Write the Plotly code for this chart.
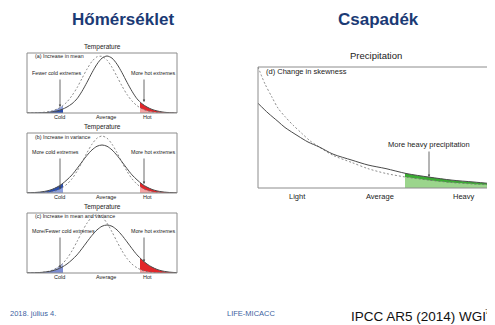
import plotly.graph_objects as go

# page is offset by the browser's 8px body margin; the figure fills the rest of the 495x325 window
OX, OY = 8, 8
W, H = 495 - OX, 325 - OY

# ---------------- data ----------------
temp_x = list(range(0, 151, 5))  # temperature axis, arbitrary units
# (a) increase in mean
a_new = [0, 0.001, 0.001, 0.003, 0.008, 0.018, 0.035, 0.06, 0.1, 0.155, 0.237, 0.362, 0.512, 0.672, 0.814, 0.914,
         0.95, 0.914, 0.814, 0.672, 0.512, 0.362, 0.237, 0.155, 0.1, 0.06, 0.035, 0.018, 0.008, 0.003, 0.001]
a_old = [0.001, 0.002, 0.004, 0.009, 0.018, 0.035, 0.065, 0.112, 0.185, 0.29, 0.42, 0.577, 0.732, 0.861, 0.937, 0.944,
         0.881, 0.761, 0.608, 0.45, 0.309, 0.2, 0.122, 0.07, 0.038, 0.02, 0.01, 0.005, 0.002, 0.001, 0]
# (b) increase in variance
b_new = [0.003, 0.006, 0.011, 0.02, 0.035, 0.06, 0.098, 0.15, 0.22, 0.302, 0.407, 0.519, 0.627, 0.718, 0.779, 0.8,
         0.779, 0.718, 0.627, 0.519, 0.407, 0.302, 0.22, 0.15, 0.098, 0.06, 0.035, 0.02, 0.011, 0.006, 0.003]
b_old = [0.001, 0.001, 0.002, 0.005, 0.011, 0.022, 0.045, 0.085, 0.148, 0.237, 0.362, 0.512, 0.672, 0.814, 0.914, 0.95,
         0.914, 0.814, 0.672, 0.512, 0.362, 0.237, 0.148, 0.085, 0.045, 0.022, 0.011, 0.005, 0.002, 0.001, 0.001]
# (c) increase in mean and variance
c_new = [0.002, 0.003, 0.006, 0.011, 0.02, 0.035, 0.06, 0.098, 0.15, 0.22, 0.302, 0.407, 0.519, 0.627, 0.718, 0.779,
         0.8, 0.779, 0.718, 0.627, 0.519, 0.407, 0.302, 0.22, 0.15, 0.098, 0.06, 0.035, 0.02, 0.011, 0.006]
c_old = [0.001, 0.002, 0.005, 0.011, 0.023, 0.046, 0.087, 0.148, 0.242, 0.37, 0.523, 0.686, 0.831, 0.933, 0.97, 0.933,
         0.831, 0.686, 0.523, 0.37, 0.242, 0.148, 0.087, 0.046, 0.023, 0.011, 0.005, 0.002, 0.001, 0.001, 0]
temp_thresholds = [36, 113]          # cold, hot
temp_labels = ["Cold", "Average", "Hot"]
temp_label_x = [32, 79, 120]

# (d) change in skewness (precipitation)
d_new_x = [0, 10, 20, 27, 40, 50, 61, 75, 94, 110, 128, 148, 171, 194, 215, 235]
d_new = [0.70, 0.62, 0.55, 0.50, 0.43, 0.38, 0.34, 0.28, 0.23, 0.19, 0.16, 0.12, 0.09, 0.065, 0.05, 0.035]
d_old_x = [0, 7, 14, 20, 27, 35, 44, 52, 61, 75, 94, 110, 128, 148, 171, 194, 215, 235]
d_old = [1.0, 0.86, 0.75, 0.66, 0.59, 0.52, 0.45, 0.39, 0.34, 0.27, 0.21, 0.16, 0.12, 0.09, 0.065, 0.045, 0.033, 0.025]
heavy_threshold = 147
precip_labels = ["Light", "Average", "Heavy"]
precip_label_x = [39, 122, 206]

# ---------------- helpers (page pixel -> paper) ----------------
def px(x):
    return (x - OX) / W

def py(y):
    return 1 - (y - OY) / H

FONT = "Liberation Sans, Arial, sans-serif"
SOLID = dict(color="#4a4a4a", width=1)
DASH = dict(color="#707070", width=0.8, dash="2px,2px")

fig = go.Figure()
layout_axes = {}

def xaxis(name, x0, x1, rng, anchor):
    layout_axes[name] = dict(domain=[px(x0), px(x1)], range=rng, visible=False,
                             anchor=anchor, fixedrange=True)

def yaxis(name, y_top, y_bot, rng, anchor):
    layout_axes[name] = dict(domain=[py(y_bot), py(y_top)], range=rng, visible=False,
                             anchor=anchor, fixedrange=True)

panels = [
    ("x", "y", 53, 113),
    ("x2", "y2", 133, 193),
    ("x3", "y3", 213, 273),
]
for xa, ya, top, bot in panels:
    xaxis("xaxis" + ("" if xa == "x" else xa[1:]), 27, 177, [0, 150], ya)
    yaxis("yaxis" + ("" if ya == "y" else ya[1:]), top, bot, [0, 1], xa)
xaxis("xaxis4", 258, 493, [0, 235], "y4")
yaxis("yaxis4", 67, 188, [0, 1], "x4")

# clip axes for the shaded tails
clip_defs = [
    ("x5", "y", 27, 63, [0, temp_thresholds[0]]),
    ("x6", "y", 140, 177, [temp_thresholds[1], 150]),
    ("x7", "y2", 27, 63, [0, temp_thresholds[0]]),
    ("x8", "y2", 140, 177, [temp_thresholds[1], 150]),
    ("x9", "y3", 27, 63, [0, temp_thresholds[0]]),
    ("x10", "y3", 140, 177, [temp_thresholds[1], 150]),
    ("x11", "y4", 405, 493, [heavy_threshold, 235]),
]
for xa, ya, x0, x1, rng in clip_defs:
    xaxis("xaxis" + xa[1:], x0, x1, rng, ya)

def line(xa, ya, x, y, style):
    fig.add_trace(go.Scatter(x=x, y=y, xaxis=xa, yaxis=ya, mode="lines",
                             line=dict(shape="spline", smoothing=0.8, **style),
                             hoverinfo="skip", showlegend=False))

def filled(xa, ya, x, y, color):
    fig.add_trace(go.Scatter(x=x, y=y, xaxis=xa, yaxis=ya, mode="lines",
                             line=dict(shape="spline", smoothing=0.8, width=0, color=color),
                             fill="tozeroy", fillcolor=color,
                             hoverinfo="skip", showlegend=False))

BLUE_D, BLUE_L = "#2c4fae", "#8ea0dc"
PERI_D, PERI_L = "#7d8dd2", "#b3bde9"
RED_D, RED_L = "#e2262a", "#f5a3a3"
GREEN_D, GREEN_L = "#3aab32", "#9bd58c"

# main curves
for (xa, ya), new, old in [(("x", "y"), a_new, a_old), (("x2", "y2"), b_new, b_old), (("x3", "y3"), c_new, c_old)]:
    line(xa, ya, temp_x, old, DASH)
    line(xa, ya, temp_x, new, SOLID)
line("x4", "y4", d_old_x, d_old, DASH)
line("x4", "y4", d_new_x, d_new, SOLID)

def tail(xa, ya, first, first_col, second, second_col, xs_first=temp_x, xs_second=temp_x):
    filled(xa, ya, xs_first, first, first_col)
    filled(xa, ya, xs_second, second, second_col)

tail("x5", "y", a_old, BLUE_L, a_new, BLUE_D)
tail("x6", "y", a_new, RED_D, a_old, RED_L)
tail("x7", "y2", b_new, BLUE_D, b_old, BLUE_L)
tail("x8", "y2", b_new, RED_D, b_old, RED_L)
tail("x9", "y3", c_old, PERI_L, c_new, PERI_D)
tail("x10", "y3", c_new, RED_D, c_old, RED_L)
tail("x11", "y4", d_new, GREEN_D, d_old, GREEN_L, d_new_x, d_old_x)

# redraw curves on top of the shading
for xa, ya, new, old in [("x5", "y", a_new, a_old), ("x6", "y", a_new, a_old),
                         ("x7", "y2", b_new, b_old), ("x8", "y2", b_new, b_old),
                         ("x9", "y3", c_new, c_old), ("x10", "y3", c_new, c_old)]:
    line(xa, ya, temp_x, old, DASH)
    line(xa, ya, temp_x, new, SOLID)
line("x11", "y4", d_old_x, d_old, DASH)
line("x11", "y4", d_new_x, d_new, SOLID)

# ---------------- boxes ----------------
shapes = []
for xa, ya in [("x", "y"), ("x2", "y2"), ("x3", "y3"), ("x4", "y4")]:
    shapes.append(dict(type="rect", xref=xa + " domain", yref=ya + " domain", x0=0, x1=1, y0=0, y1=1,
                       line=dict(color="#8c8c8c", width=1), layer="above"))

# ---------------- texts ----------------
ann = []

def text(s, x, y, size, color="#222222", xanchor="center", bold=False, yanchor="middle"):
    ann.append(dict(text=("<b>%s</b>" % s) if bold else s, x=px(x), y=py(y), xref="paper", yref="paper",
                    showarrow=False, xanchor=xanchor, yanchor=yanchor,
                    font=dict(size=size, color=color, family=FONT)))

def arrow(x, y_tail, y_head):
    ann.append(dict(text="", x=px(x), y=py(y_head), xref="paper", yref="paper",
                    ax=0, ay=-(y_head - y_tail), axref="pixel", ayref="pixel",
                    showarrow=True, arrowhead=2, arrowsize=0.6, arrowwidth=0.8, arrowcolor="#444444"))

text("Hőmérséklet", 123, 20, 17, color="#1b3a75", bold=True)
text("Csapadék", 378, 20, 17, color="#1b3a75", bold=True)

panel_text = [
    (47, 56, "(a) Increase in mean", "Fewer cold extremes", 73, 78, 107, 102),
    (127, 137, "(b) Increase in variance", "More cold extremes", 152, 157, 189, 184),
    (207, 216, "(c) Increase in mean and variance", "More/Fewer cold extremes", 231, 236, 268, 262),
]
for (ty, sy, sub, cold_txt, ly, atail, ahead_c, ahead_h), xa, bot in zip(panel_text, ["x", "x2", "x3"], [113, 193, 273]):
    text("Temperature", 102, ty, 6.5)
    text(sub, 33, sy, 5.3, xanchor="left")
    text(cold_txt, 30, ly, 5.3, xanchor="left")
    text("More hot extremes", 129, ly, 5.3, xanchor="left")
    arrow(60, atail, ahead_c)
    arrow(144, atail, ahead_h)
    for lab, lx in zip(temp_labels, temp_label_x):
        ann.append(dict(text=lab, x=lx, y=py(bot + 4), xref=xa, yref="paper", showarrow=False,
                        xanchor="center", yanchor="middle", font=dict(size=5.5, color="#222222", family=FONT)))

text("Precipitation", 376, 56, 9.5)
text("(d) Change in skewness", 264, 72, 7.5, xanchor="left")
text("More heavy precipitation", 429, 144, 7.5)
arrow(429, 150, 177)
for lab, lx in zip(precip_labels, precip_label_x):
    ann.append(dict(text=lab, x=lx, y=py(196), xref="x4", yref="paper", showarrow=False,
                    xanchor="center", yanchor="middle", font=dict(size=7.5, color="#222222", family=FONT)))

text("2018. július 4.", 8, 313, 7.5, color="#3d5f9f", xanchor="left")
text("LIFE-MICACC", 251, 313, 7.5, color="#3d5f9f")
text("IPCC AR5 (2014) WGI", 349, 326, 13.5, color="#111111", xanchor="left", yanchor="bottom")
text("7", 487, 311, 8, color="#111111")

fig.update_layout(
    width=W, height=H, margin=dict(l=0, r=0, t=0, b=0),
    paper_bgcolor="white", plot_bgcolor="white",
    showlegend=False, shapes=shapes, annotations=ann,
    **layout_axes,
)

fig.write_html("out.html")
